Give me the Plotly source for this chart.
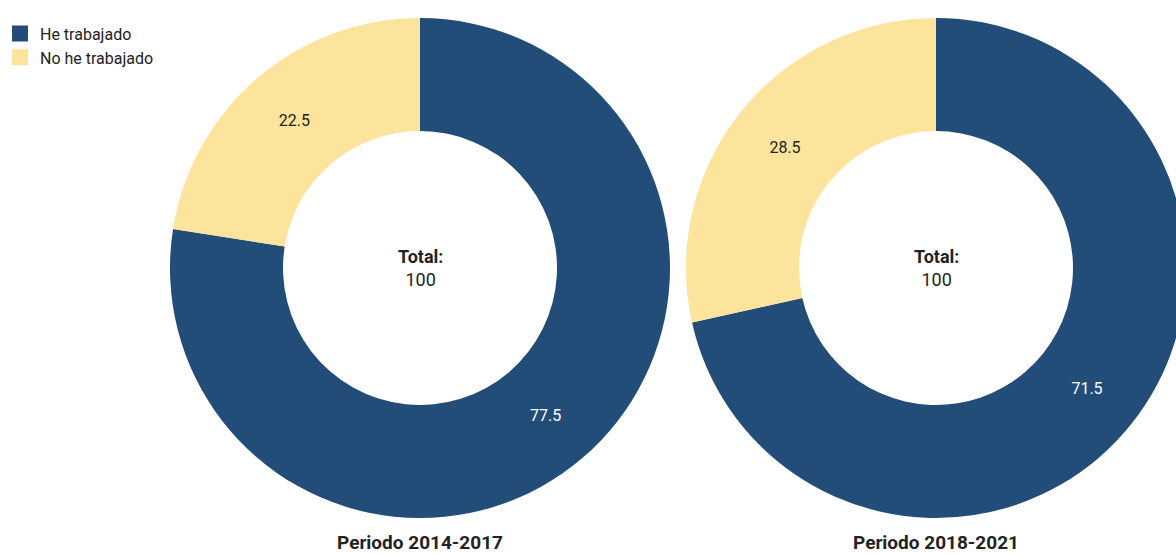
import plotly.graph_objects as go

labels = ["He trabajado", "No he trabajado"]
values_2014 = [77.5, 22.5]
values_2018 = [71.5, 28.5]
periods = ["Periodo 2014-2017", "Periodo 2018-2021"]
totals = [100, 100]
colors = ["#214d78", "#fde49c"]
label_colors = ["#ffffff", "#222222"]

W, H = 1186, 554   # slightly wider than the window so the right donut is clipped like the reference

def xd(a, b):
    return [a / W, b / W]

def yd(top, bottom):
    return [(H - bottom) / H, (H - top) / H]

fig = go.Figure()
common = dict(
    labels=labels,
    hole=0.548,
    sort=False,
    direction="clockwise",
    rotation=0,
    marker=dict(colors=colors, line=dict(width=0)),
    textinfo="value",
    textposition="inside",
    insidetextorientation="horizontal",
    textfont=dict(family="Roboto", size=16, color=label_colors),
    hoverinfo="label+value",
    showlegend=False,
)
fig.add_trace(go.Pie(values=values_2014, domain=dict(x=xd(170, 670), y=yd(18, 518)), name=periods[0], **common))
fig.add_trace(go.Pie(values=values_2018, domain=dict(x=xd(686, 1186), y=yd(18, 518)), name=periods[1], **common))

# legend entries (square swatches)
for lab, col in zip(labels, colors):
    fig.add_trace(go.Scatter(x=[None], y=[None], mode="markers", name=lab,
                             marker=dict(symbol="square", size=24, color=col),
                             showlegend=True, hoverinfo="skip"))

annotations = []
for cx, p, t in [(420, periods[0], totals[0]), (936, periods[1], totals[1])]:
    annotations.append(dict(x=cx / W, y=(H - 268) / H, xref="paper", yref="paper",
                            text=f"<b>Total:</b><br>{t}", showarrow=False,
                            font=dict(family="Roboto", size=18, color="#222222"),
                            xanchor="center", yanchor="middle"))
    annotations.append(dict(x=cx / W, y=(H - 542) / H, xref="paper", yref="paper",
                            text=f"<b>{p}</b>", showarrow=False,
                            font=dict(family="Roboto", size=19, color="#222222"),
                            xanchor="center", yanchor="middle"))

fig.update_layout(
    width=W, height=H,
    margin=dict(l=0, r=0, t=0, b=0),
    paper_bgcolor="white",
    plot_bgcolor="rgba(0,0,0,0)",
    font=dict(family="Roboto", color="#222222"),
    showlegend=True,
    xaxis=dict(visible=False),
    yaxis=dict(visible=False),
    legend=dict(x=0.0, y=0.97, xanchor="left", yanchor="top",
                font=dict(family="Roboto", size=16, color="#222222"),
                itemsizing="trace", tracegroupgap=0, bgcolor="rgba(0,0,0,0)",
                itemwidth=30),
    annotations=annotations,
)

fig.write_html("out.html", config={"displayModeBar": False},
               post_script="document.body.style.margin='0';document.body.style.overflow='hidden';")
